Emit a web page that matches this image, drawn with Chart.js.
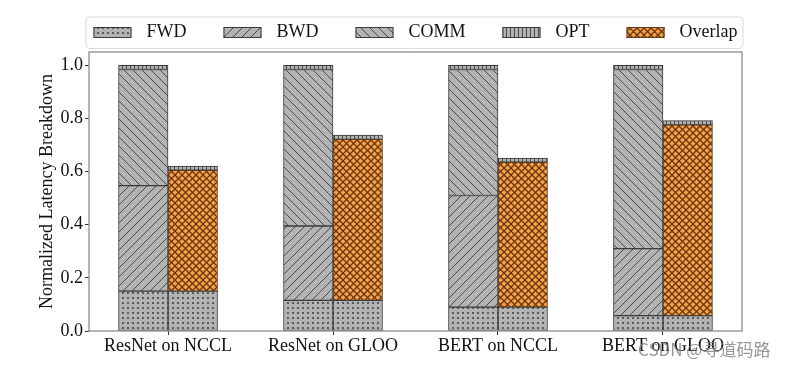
<!DOCTYPE html>
<html>
<head>
<meta charset="utf-8">
<script src="https://cdn.jsdelivr.net/npm/chart.js@4.4.0/dist/chart.umd.min.js"></script>
<style>
  html, body { margin: 0; padding: 0; background: #fff; }
</style>
</head>
<body>
<canvas id="grafico" width="789" height="369"></canvas>
<script>
// Datos
const categorias = ['ResNet on NCCL', 'ResNet on GLOO', 'BERT on NCCL', 'BERT on GLOO'];
const fwd     = [0.150, 0.115, 0.090, 0.058];
const bwd     = [0.397, 0.280, 0.420, 0.252];
const comm    = [0.437, 0.589, 0.474, 0.674];
const opt     = [0.016, 0.016, 0.016, 0.016];
const overlap = [0.455, 0.606, 0.545, 0.718];
const ticksY  = [0.0, 0.2, 0.4, 0.6, 0.8, 1.0];

const FUENTE = '"Liberation Serif", "Times New Roman", serif';
const GRIS = '#b3b3b3';
const LINEA_GRIS = '#4a4a4a';
const NARANJA = '#f4a346';
const LINEA_NARANJA = '#6a3410';

// Tramas tipo matplotlib
function crearTrama(tipo) {
    const c = document.createElement('canvas');
    const ctx = c.getContext('2d');
    let s = 9;
    if (tipo === 'puntos') s = 5;
    if (tipo === 'vertical') s = 4;
    if (tipo === 'cruz') s = 7;
    c.width = s;
    c.height = s;
    ctx.fillStyle = tipo === 'cruz' ? NARANJA : GRIS;
    ctx.fillRect(0, 0, s, s);
    ctx.strokeStyle = tipo === 'cruz' ? LINEA_NARANJA : LINEA_GRIS;
    ctx.fillStyle = LINEA_GRIS;
    ctx.lineWidth = tipo === 'cruz' ? 1.3 : 1;

    const diag = (sube) => {
        ctx.beginPath();
        for (let k = -1; k <= 1; k++) {
            if (sube) {
                ctx.moveTo(k * s, s);
                ctx.lineTo(k * s + s, 0);
            } else {
                ctx.moveTo(k * s, 0);
                ctx.lineTo(k * s + s, s);
            }
        }
        ctx.stroke();
    };

    if (tipo === 'puntos') {
        ctx.fillStyle = '#5a5a5a';
        ctx.fillRect(2, 2, 2, 2);
    } else if (tipo === 'sube') {
        diag(true);
    } else if (tipo === 'baja') {
        diag(false);
    } else if (tipo === 'vertical') {
        ctx.fillRect(2, 0, 1, s);
    } else if (tipo === 'cruz') {
        diag(true);
        diag(false);
    }
    return ctx.createPattern(c, 'repeat');
}

const tramas = {
    fwd: crearTrama('puntos'),
    bwd: crearTrama('sube'),
    comm: crearTrama('baja'),
    opt: crearTrama('vertical'),
    overlap: crearTrama('cruz')
};

const aPuntos = arr => arr.map((v, i) => ({ x: i, y: v }));

const serie = (label, valores, trama, pila) => ({
    label: label,
    data: aPuntos(valores),
    stack: pila,
    backgroundColor: trama,
    borderColor: label === 'Overlap' ? '#5a3a20' : '#3a3a3a',
    borderWidth: 1,
    borderSkipped: false,
    barThickness: 49.5
});

// Leyenda con tramas, marco del gráfico y marca de agua
const pluginLeyenda = {
    id: 'leyendaTramas',
    afterDatasetsDraw(chart) {
        const { ctx, chartArea } = chart;
        ctx.save();
        ctx.strokeStyle = '#8c8c8c';
        ctx.lineWidth = 1.3;
        ctx.strokeRect(chartArea.left, chartArea.top, chartArea.right - chartArea.left, chartArea.bottom - chartArea.top);
        ctx.restore();
    },
    afterDraw(chart) {
        const { ctx, chartArea } = chart;
        const vistos = new Set();
        const items = [];
        chart.data.datasets.forEach(ds => {
            if (!vistos.has(ds.label)) {
                vistos.add(ds.label);
                items.push(ds);
            }
        });

        ctx.save();
        ctx.font = '18px ' + FUENTE;
        const anchoParche = 38, altoParche = 11, separacion = 15, hueco = 37;
        const anchos = items.map(it => anchoParche + separacion + ctx.measureText(it.label).width);
        const total = anchos.reduce((a, b) => a + b, 0) + hueco * (items.length - 1);
        let x = (chartArea.left + chartArea.right) / 2 - total / 2;
        const yCentro = 32.5;

        ctx.beginPath();
        ctx.roundRect(chartArea.left - 3, 17, chartArea.right - chartArea.left + 4, 31.5, 4);
        ctx.fillStyle = '#fff';
        ctx.fill();
        ctx.strokeStyle = '#d9d9d9';
        ctx.lineWidth = 1;
        ctx.stroke();

        items.forEach((it, i) => {
            const y0 = Math.round(yCentro - altoParche / 2);
            ctx.fillStyle = it.backgroundColor;
            ctx.fillRect(x, y0, anchoParche, altoParche);
            ctx.strokeStyle = it.borderColor;
            ctx.lineWidth = 1;
            ctx.strokeRect(x + 0.5, y0 + 0.5, anchoParche - 1, altoParche - 1);
            ctx.fillStyle = '#111';
            ctx.textBaseline = 'middle';
            ctx.textAlign = 'left';
            ctx.fillText(it.label, x + anchoParche + separacion, yCentro);
            x += anchos[i] + hueco;
        });

        ctx.font = '17px "Noto Sans CJK SC", "Noto Sans", sans-serif';
        ctx.fillStyle = 'rgba(125, 125, 125, 0.8)';
        ctx.textBaseline = 'alphabetic';
        ctx.fillText('CSDN @寻道码路', 638, 356);
        ctx.restore();
    }
};

const grafico = document.getElementById('grafico').getContext('2d');

window.graficaLatencia = new Chart(grafico, {
    type: 'bar',
    data: {
        datasets: [
            serie('FWD', fwd, tramas.fwd, 'base'),
            serie('BWD', bwd, tramas.bwd, 'base'),
            serie('COMM', comm, tramas.comm, 'base'),
            serie('OPT', opt, tramas.opt, 'base'),
            serie('FWD', fwd, tramas.fwd, 'ovl'),
            serie('Overlap', overlap, tramas.overlap, 'ovl'),
            serie('OPT', opt, tramas.opt, 'ovl')
        ]
    },
    options: {
        responsive: false,
        devicePixelRatio: 1,
        animation: false,
        layout: {
            padding: { left: 0, right: 47, top: 52, bottom: 8 }
        },
        plugins: {
            legend: { display: false },
            tooltip: { enabled: false },
            title: { display: false }
        },
        scales: {
            x: {
                type: 'linear',
                offset: false,
                min: -0.479,
                max: 3.479,
                grid: { offset: false, drawOnChartArea: false, tickLength: 4, color: '#333' },
                border: { display: false },
                afterBuildTicks: s => { s.ticks = categorias.map((c, i) => ({ value: i })); },
                afterFit: s => { s.height = 30; },
                ticks: {
                    autoSkip: false,
                    maxRotation: 0,
                    padding: 0,
                    color: '#111',
                    font: { family: FUENTE, size: 18 },
                    callback: v => categorias[v]
                }
            },
            y: {
                stacked: true,
                min: 0,
                max: 1.05,
                grid: { drawOnChartArea: false, tickLength: 4, color: '#333' },
                border: { display: false },
                afterBuildTicks: s => { s.ticks = ticksY.map(v => ({ value: v })); },
                afterFit: s => { s.width = 89; },
                ticks: {
                    padding: 2,
                    color: '#111',
                    font: { family: FUENTE, size: 18 },
                    callback: v => v.toFixed(1)
                },
                title: {
                    display: true,
                    text: 'Normalized Latency Breakdown',
                    color: '#111',
                    font: { family: FUENTE, size: 18 },
                    padding: { top: 36, bottom: 0 }
                }
            }
        }
    },
    plugins: [pluginLeyenda]
});
</script>
</body>
</html>
